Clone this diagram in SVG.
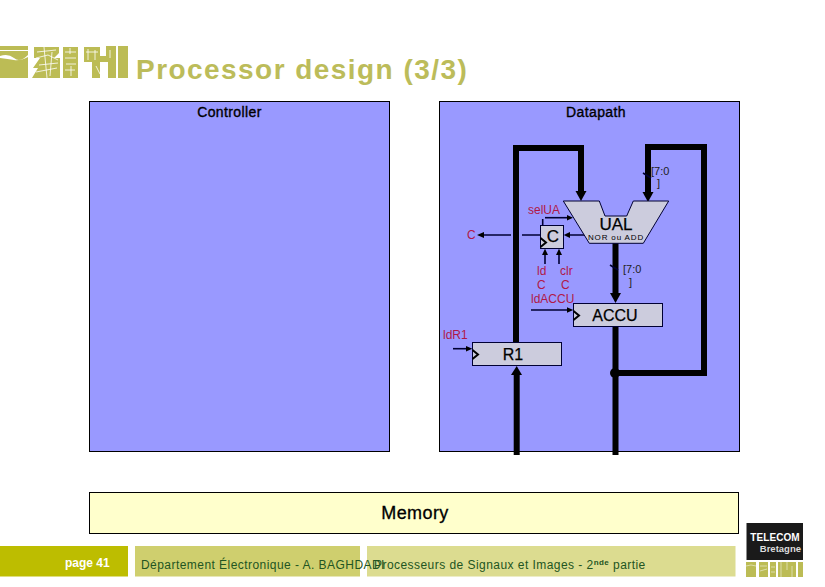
<svg xmlns="http://www.w3.org/2000/svg" width="825" height="587" viewBox="0 0 825 587">
<style>
text{font-family:"Liberation Sans",Arial,sans-serif}
.panel{fill:#9999ff;stroke:#000;stroke-width:1}
.block{fill:#ccccdd;stroke:#000033;stroke-width:1}
.bus{fill:none;stroke:#000;stroke-width:6}
.wire{fill:none;stroke:#000033;stroke-width:1.6}
.clk{fill:none;stroke:#000;stroke-width:2}
.sig{fill:#b01848;font-size:12px}
.bw{fill:#222;font-size:11px}
.name{fill:#000;font-size:17px;text-anchor:middle;stroke:#000;stroke-width:.25}
.head{fill:#000;font-size:14px;text-anchor:middle;stroke:#000;stroke-width:.35;letter-spacing:.4px}
.logo{fill:#bcbc55}
.cut{fill:none;stroke:#fff;stroke-width:.8}
.foot{fill:#225522;font-size:12px;letter-spacing:.45px}
</style>
<rect width="825" height="587" fill="#fff"/>
<g id="logo-top">
<path class="logo" d="M0 46H28V78H0Z"/>
<path d="M0 50H28V51H0ZM0 56Q8 53 14 58T28 55V57Q20 61 14 60T0 58Z" fill="#fff"/>
<path class="logo" d="M34 47H59V53L54 58H60V78H32L38 68H33L40 58H34Z"/>
<path class="cut" d="M37 52L56 50M36 58L48 55L58 60M39 65L58 63M36 72L57 68M44 47L47 78M52 52L50 76"/>
<path class="logo" d="M63 47H78V78H63Z"/>
<path class="cut" d="M65 52H76M65 58H76M66 64H76M65 70H75M70 48V54M71 66V76"/>
<path class="logo" d="M84 47H100V56H106V46H116V78H108V62H100V78H92V62H84Z"/>
<path class="cut" d="M86 52H98M88 49V60M95 50V60M90 66V76M110 50V58M104 66V76M96 66L100 74"/>
<path class="logo" d="M118 46H128V78H118Z"/>
</g>
<text id="title" x="136" y="79" font-size="28" font-weight="bold" fill="#bcbc5a" letter-spacing="1.450">Processor design (3/3)</text>
<g id="controller">
<rect class="panel" x="89.500" y="101.500" width="300" height="350"/>
<text class="head" x="229.500" y="117">Controller</text>
</g>
<g id="datapath">
<rect class="panel" x="439.500" y="101.500" width="300" height="350"/>
<text class="head" x="596" y="117">Datapath</text>
</g>
<g id="connectors">
<path class="bus" d="M516 342V148H581V192"/>
<path class="bus" d="M648 192V147H704V373H615"/>
<path class="bus" d="M615.500 243V294"/>
<path d="M610 293H621L615.500 303Z"/>
<path class="bus" d="M615.500 326V455"/>
<circle cx="615" cy="373" r="5"/>
<path class="bus" d="M516.700 455V375"/>
<path d="M511 375H522L516.700 366Z"/>
<path d="M575.500 191H586.500L581 201Z"/>
<path d="M642.500 192H653.500L648 202Z"/>
<path class="wire" d="M585 235H568M522 235H540M511 235H482"/>
<path d="M570 232V238L563.700 235Z"/>
<path d="M484 232V238L477 235Z"/>
<path class="wire" d="M545 217.700H567"/>
<path d="M567 215V220.500L573 217.700Z"/>
<path class="wire" d="M542.700 219V225"/>
<path class="wire" d="M545 264V254M559 264V254"/>
<path d="M542 255H548L545 248.700ZM556 255H562L559 248.700Z"/>
<path class="wire" d="M531 310H567"/>
<path d="M567 307.300V312.700L573.300 310Z"/>
<path class="wire" d="M453 348.700H466"/>
<path d="M466 346V351.400L472.300 348.700Z"/>
<path class="wire" d="M643 173L651 178"/>
<path class="wire" d="M610 265L618 270"/>
</g>
<g id="ual">
<path class="block" d="M563.300 201H599.300L605 216H626.700L633.300 201H668.700L643.300 243.300H589.300Z"/>
<text class="name" x="616" y="230">UAL</text>
<text x="616" y="240" font-size="8" fill="#000" text-anchor="middle" letter-spacing=".85">NOR ou ADD</text>
</g>
<g id="c-flag">
<rect class="block" x="540.500" y="225.500" width="23" height="23"/>
<path class="clk" d="M540.500 238L546 242.500L540.500 247"/>
<text class="name" x="553" y="241.500">C</text>
</g>
<g id="accu">
<rect class="block" x="573.500" y="303.500" width="89" height="23"/>
<path class="clk" d="M573.500 311L579 315.500L573.500 320"/>
<text class="name" x="615" y="321" style="font-size:16px">ACCU</text>
</g>
<g id="r1">
<rect class="block" x="472.500" y="342.500" width="89" height="23"/>
<path class="clk" d="M472.500 350L478 354.500L472.500 359"/>
<text class="name" x="513" y="359.500" style="font-size:16px">R1</text>
</g>
<g id="labels">
<text class="sig" x="528" y="214">selUA</text>
<text class="sig" x="467" y="239">C</text>
<text class="sig" x="537" y="275">ld</text>
<text class="sig" x="560" y="275">clr</text>
<text class="sig" x="537" y="289">C</text>
<text class="sig" x="561" y="289">C</text>
<text class="sig" x="531" y="303">ldACCU</text>
<text class="sig" x="443" y="339">ldR1</text>
<text class="bw" x="651" y="175">[7:0</text>
<text class="bw" x="657" y="187">]</text>
<text class="bw" x="623" y="273">[7:0</text>
<text class="bw" x="629" y="286">]</text>
</g>
<g id="memory">
<rect x="89.500" y="492.500" width="649" height="41" fill="#ffffcc" stroke="#000"/>
<text x="415" y="519" font-size="18" text-anchor="middle" fill="#000" stroke="#000" stroke-width=".3" letter-spacing=".4">Memory</text>
</g>
<g id="footer">
<rect x="0" y="546" width="128" height="30.500" fill="#bdbd00"/>
<rect x="135" y="546" width="225" height="30.500" fill="#cfcf6e"/>
<rect x="367" y="546" width="368.500" height="30.500" fill="#dcdc90"/>
<text x="65" y="567" font-size="12" font-weight="bold" fill="#fff">page 41</text>
<text class="foot" x="141" y="569">Département Électronique - A. BAGHDADI</text>
<text class="foot" x="374" y="569">Processeurs de Signaux et Images - 2<tspan font-size="8" dy="-4" font-weight="bold">nde</tspan><tspan dy="4"> partie</tspan></text>
</g>
<g id="telecom">
<rect x="746.500" y="523" width="56.500" height="37" fill="#1a1a1a"/>
<text x="775" y="541" font-size="10" font-weight="bold" fill="#fff" text-anchor="middle" letter-spacing=".1">TELECOM</text>
<text x="801" y="552" font-size="9.500" font-weight="bold" fill="#ddd" text-anchor="end">Bretagne</text>
<path class="logo" d="M746 562H756V577H746ZM759 562H768V577H759ZM770 562H776V577H770ZM778 562H796V577H778ZM798 562H803V577H798Z"/>
<path class="cut" style="stroke-width:.5" d="M746 566Q751 564 756 566M760 566H767M760 571L767 569M771 567H775M771 572H775M781 562V577M787 562V570M792 566V577"/>
</g>
</svg>
